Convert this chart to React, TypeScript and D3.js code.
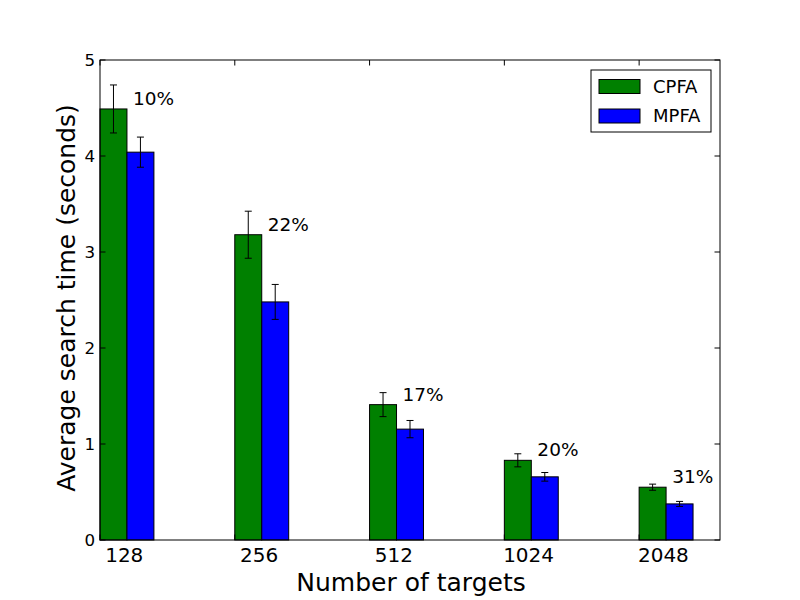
import { useRef, useEffect } from 'react'
import * as d3 from 'd3'

const CATEGORIES = ['128', '256', '512', '1024', '2048']
const CPFA = [4.49, 3.18, 1.41, 0.83, 0.55]
const CPFA_ERR = [0.25, 0.245, 0.125, 0.068, 0.032]
const MPFA = [4.04, 2.48, 1.155, 0.658, 0.376]
const MPFA_ERR = [0.157, 0.182, 0.09, 0.045, 0.026]
const IMPROVEMENT = ['10%', '22%', '17%', '20%', '31%']
const Y_TICKS = [0, 1, 2, 3, 4, 5]

const WIDTH = 800
const HEIGHT = 600
const MARGIN = { top: 60, right: 80, bottom: 60, left: 100 }
const BAR_W = 0.2
const FONT = 'DejaVu Sans, sans-serif'

export default function App() {
  const svgRef = useRef<SVGSVGElement>(null)

  useEffect(() => {
    document.body.style.margin = '0'
    if (!svgRef.current) return
    const el = d3.select(svgRef.current)
    el.selectAll('*').remove()

    const innerW = WIDTH - MARGIN.left - MARGIN.right
    const innerH = HEIGHT - MARGIN.top - MARGIN.bottom

    const x = d3.scaleLinear().domain([0, 4.6]).range([0, innerW])
    const y = d3.scaleLinear().domain([0, 5]).range([innerH, 0])

    el.append('rect').attr('width', WIDTH).attr('height', HEIGHT).attr('fill', '#fff')
    const svg = el.append('g').attr('transform', `translate(${MARGIN.left},${MARGIN.top})`)

    const series = [
      { name: 'CPFA', values: CPFA, err: CPFA_ERR, color: '#008000', offset: 0 },
      { name: 'MPFA', values: MPFA, err: MPFA_ERR, color: '#0000ff', offset: BAR_W },
    ]

    // Bars
    series.forEach((s) => {
      svg.append('g')
        .selectAll('rect')
        .data(s.values)
        .join('rect')
        .attr('x', (_, i) => x(i + s.offset))
        .attr('y', (d) => y(d))
        .attr('width', x(BAR_W) - x(0))
        .attr('height', (d) => y(0) - y(d))
        .attr('fill', s.color)
        .attr('stroke', '#000')
        .attr('stroke-width', 1)
    })

    // Error bars
    series.forEach((s) => {
      const g = svg.append('g').attr('stroke', '#000').attr('stroke-width', 1)
      s.values.forEach((v, i) => {
        const cx = x(i + s.offset + BAR_W / 2)
        const lo = y(v - s.err[i])
        const hi = y(v + s.err[i])
        g.append('line').attr('x1', cx).attr('x2', cx).attr('y1', lo).attr('y2', hi)
        g.append('line').attr('x1', cx - 3.5).attr('x2', cx + 3.5).attr('y1', lo).attr('y2', lo)
        g.append('line').attr('x1', cx - 3.5).attr('x2', cx + 3.5).attr('y1', hi).attr('y2', hi)
      })
    })

    // Percent labels
    svg.append('g')
      .selectAll('text')
      .data(IMPROVEMENT)
      .join('text')
      .attr('x', (_, i) => x(i + 0.245))
      .attr('y', (_, i) => y(CPFA[i] + 0.04))
      .attr('font-family', FONT)
      .attr('font-size', 18.5)
      .attr('fill', '#000')
      .text((d) => d)

    // Frame
    svg.append('rect')
      .attr('width', innerW)
      .attr('height', innerH)
      .attr('fill', 'none')
      .attr('stroke', '#000')
      .attr('stroke-width', 1)

    const ticks = svg.append('g').attr('stroke', '#000').attr('stroke-width', 1)
    const TL = 5.5
    Y_TICKS.forEach((t) => {
      ticks.append('line').attr('x1', 0).attr('x2', TL).attr('y1', y(t)).attr('y2', y(t))
      ticks.append('line').attr('x1', innerW - TL).attr('x2', innerW).attr('y1', y(t)).attr('y2', y(t))
    })
    CATEGORIES.forEach((_, i) => {
      ticks.append('line').attr('x1', x(i)).attr('x2', x(i)).attr('y1', 0).attr('y2', TL)
      ticks.append('line').attr('x1', x(i)).attr('x2', x(i)).attr('y1', innerH).attr('y2', innerH - TL)
    })

    // Y tick labels
    svg.append('g')
      .selectAll('text')
      .data(Y_TICKS)
      .join('text')
      .attr('x', -5)
      .attr('y', (d) => y(d))
      .attr('dy', '0.36em')
      .attr('text-anchor', 'end')
      .attr('font-family', FONT)
      .attr('font-size', 16.7)
      .text((d) => d)

    // X tick labels
    svg.append('g')
      .selectAll('text')
      .data(CATEGORIES)
      .join('text')
      .attr('x', (_, i) => x(i + 0.18))
      .attr('y', innerH + 22)
      .attr('text-anchor', 'middle')
      .attr('font-family', FONT)
      .attr('font-size', 20)
      .text((d) => d)

    // Axis titles
    svg.append('text')
      .attr('x', innerW / 2 + 1)
      .attr('y', innerH + 51)
      .attr('text-anchor', 'middle')
      .attr('font-family', FONT)
      .attr('font-size', 25)
      .text('Number of targets')

    svg.append('text')
      .attr('transform', `translate(${75 - MARGIN.left},${innerH / 2 - 2}) rotate(-90)`)
      .attr('text-anchor', 'middle')
      .attr('font-family', FONT)
      .attr('font-size', 25)
      .text('Average search time (seconds)')

    // Legend
    const lg = el.append('g').attr('transform', 'translate(591,70)')
    lg.append('rect')
      .attr('width', 120)
      .attr('height', 62)
      .attr('fill', '#fff')
      .attr('stroke', '#000')
      .attr('stroke-width', 1)
    series.forEach((s, i) => {
      lg.append('rect')
        .attr('x', 8)
        .attr('y', 9.5 + i * 29.5)
        .attr('width', 41)
        .attr('height', 14)
        .attr('fill', s.color)
        .attr('stroke', '#000')
        .attr('stroke-width', 1)
      lg.append('text')
        .attr('x', 62)
        .attr('y', 22.5 + i * 29.5)
        .attr('font-family', FONT)
        .attr('font-size', 18)
        .text(s.name)
    })
  }, [])

  return <svg ref={svgRef} width={WIDTH} height={HEIGHT} style={{ display: 'block' }} />
}
